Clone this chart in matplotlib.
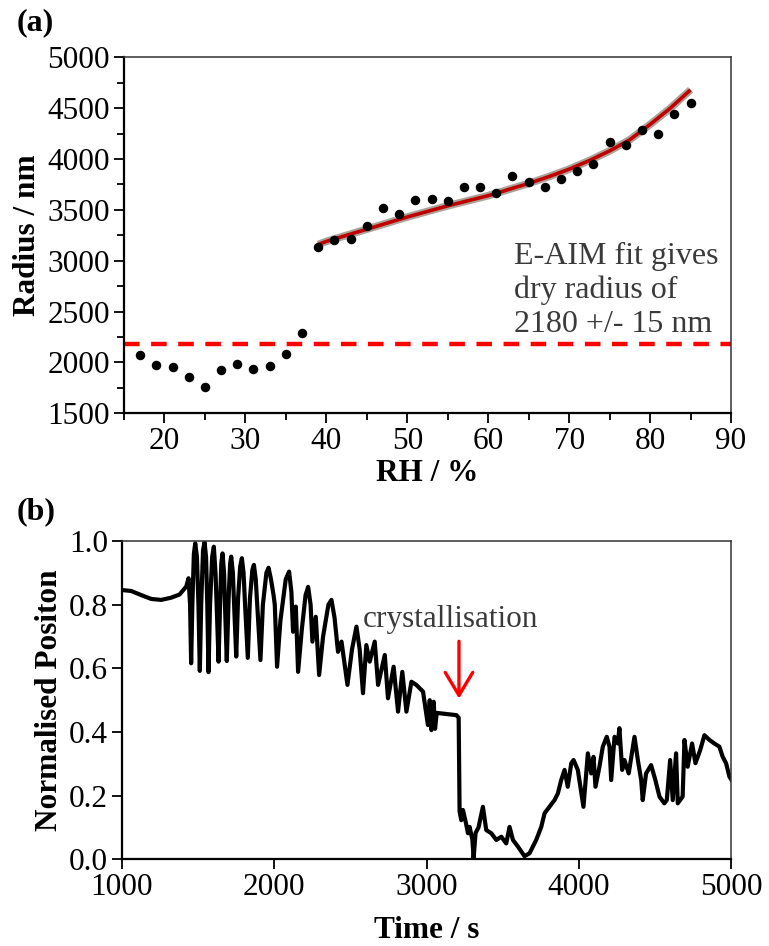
import matplotlib
matplotlib.use('Agg')
import matplotlib.pyplot as plt
from matplotlib.ticker import MultipleLocator, FormatStrFormatter

plt.rcParams['font.family'] = ['Liberation Serif', 'DejaVu Serif']

# ---- panel (a): radius vs RH ----
rh = [17, 19, 21, 23, 25, 27, 29, 31, 33, 35, 37,
      39, 41, 43, 45, 47, 49, 51, 53, 55, 57, 59, 61,
      63, 65, 67, 69, 71, 73, 75, 77, 79, 81, 83, 85]
radius = [2073, 1975, 1952, 1854, 1761, 1926, 1985, 1933, 1968, 2086, 2286,
          3138, 3201, 3214, 3341, 3521, 3459, 3597, 3604, 3584, 3722, 3722, 3669,
          3833, 3774, 3728, 3800, 3879, 3951, 4164, 4138, 4282, 4243, 4442, 4548]

# E-AIM fit curve
fit_rh = [39, 40, 42.5, 45, 47.5, 50, 52.5, 55, 57.5, 60, 62.5,
          65, 67.5, 70, 72.5, 75, 77.5, 80, 82.5, 85]
fit_r = [3160, 3190, 3250, 3310, 3370, 3430, 3485, 3540, 3590, 3640, 3700,
         3760, 3827, 3900, 3985, 4080, 4190, 4340, 4500, 4680]

dry_radius = 2180

# ---- panel (b): normalised position vs time ----
time_s = [1000, 1061, 1127, 1192, 1258, 1323, 1378, 1422, 1437, 1447,
          1454, 1462, 1472, 1481, 1492, 1502, 1511, 1520, 1532, 1542,
          1552, 1560, 1568, 1578, 1592, 1603, 1614, 1620, 1634, 1645,
          1652, 1660, 1670, 1676, 1688, 1700, 1710, 1717, 1728, 1736,
          1750, 1762, 1776, 1787, 1798, 1808, 1826, 1840, 1856, 1866,
          1878, 1890, 1909, 1925, 1948, 1962, 1978, 1995, 2003, 2018,
          2040, 2075, 2097, 2112, 2123, 2141, 2156, 2180, 2205, 2222,
          2238, 2250, 2272, 2294, 2320, 2355, 2375, 2395, 2418, 2441,
          2480, 2510, 2539, 2560, 2582, 2604, 2626, 2659, 2681, 2725,
          2746, 2783, 2812, 2840, 2867, 2900, 2932, 2976, 3008, 3020,
          3031, 3046, 3055, 3066, 3085, 3140, 3195, 3210, 3216, 3227,
          3238, 3256, 3271, 3282, 3300, 3308, 3321, 3340, 3369, 3391,
          3424, 3457, 3490, 3522, 3544, 3566, 3599, 3642, 3675, 3719,
          3752, 3774, 3806, 3839, 3861, 3883, 3905, 3926, 3949, 3964,
          3992, 4029, 4058, 4080, 4095, 4108, 4134, 4156, 4182, 4200,
          4211, 4233, 4254, 4265, 4283, 4298, 4326, 4364, 4386, 4408,
          4418, 4440, 4473, 4501, 4528, 4560, 4576, 4598, 4615, 4637,
          4648, 4680, 4692, 4713, 4742, 4764, 4795, 4823, 4856, 4888,
          4921, 4943, 4965, 4987, 5000]
position = [0.846, 0.843, 0.830, 0.818, 0.815, 0.822, 0.832, 0.857, 0.883, 0.800,
            0.616, 0.800, 0.960, 0.993, 0.950, 0.800, 0.592, 0.800, 0.970, 0.996,
            0.950, 0.800, 0.588, 0.800, 0.950, 0.982, 0.900, 0.820, 0.621, 0.820,
            0.930, 0.961, 0.900, 0.800, 0.623, 0.820, 0.930, 0.951, 0.900, 0.800,
            0.637, 0.820, 0.920, 0.946, 0.900, 0.800, 0.633, 0.820, 0.910, 0.925,
            0.880, 0.780, 0.626, 0.800, 0.900, 0.916, 0.880, 0.830, 0.800, 0.605,
            0.750, 0.880, 0.904, 0.840, 0.715, 0.794, 0.589, 0.720, 0.830, 0.856,
            0.800, 0.684, 0.762, 0.579, 0.700, 0.800, 0.815, 0.760, 0.652, 0.684,
            0.548, 0.660, 0.731, 0.660, 0.522, 0.673, 0.621, 0.684, 0.548, 0.642,
            0.506, 0.605, 0.464, 0.589, 0.464, 0.558, 0.548, 0.527, 0.422, 0.500,
            0.406, 0.495, 0.410, 0.460, 0.459, 0.456, 0.453, 0.445, 0.150, 0.123,
            0.155, 0.118, 0.082, 0.102, 0.061, 0.004, 0.083, 0.100, 0.165, 0.092,
            0.082, 0.061, 0.071, 0.050, 0.102, 0.061, 0.040, 0.010, 0.019, 0.061,
            0.102, 0.145, 0.165, 0.186, 0.207, 0.249, 0.281, 0.228, 0.302, 0.312,
            0.281, 0.165, 0.333, 0.270, 0.322, 0.228, 0.291, 0.354, 0.385, 0.354,
            0.249, 0.385, 0.364, 0.412, 0.281, 0.312, 0.270, 0.385, 0.312, 0.249,
            0.186, 0.270, 0.296, 0.249, 0.197, 0.176, 0.186, 0.312, 0.186, 0.333,
            0.176, 0.197, 0.375, 0.291, 0.364, 0.302, 0.343, 0.390, 0.375, 0.364,
            0.354, 0.322, 0.302, 0.260, 0.250]

crystal_time = 3212

TICK_SIZE = 22.5
LABEL_SIZE = 22.5
TEXT_GREY = '#3a3a3a'


def style_axes(ax):
    for side in ['left', 'bottom']:
        ax.spines[side].set_linewidth(1.6)
        ax.spines[side].set_color('black')
    for side in ['top', 'right']:
        ax.spines[side].set_linewidth(1.1)
        ax.spines[side].set_color('#333333')
    ax.tick_params(which='major', direction='out', length=7, width=1.3,
                   labelsize=TICK_SIZE, pad=3, top=False, right=False)
    ax.tick_params(which='minor', direction='out', length=5, width=1.3,
                   top=False, right=False)


fig = plt.figure(figsize=(7.69, 9.46), dpi=100)

# (a)
ax1 = fig.add_axes([0.1612, 0.5631, 0.7894, 0.3763])
ax1.axhline(dry_radius, color='#ff0000', lw=3.2, dashes=(3.5, 2.6))
ax1.plot(fit_rh, fit_r, color='#a39a90', lw=5.5, alpha=0.9, solid_capstyle='butt')
ax1.plot(fit_rh, fit_r, color='#c00000', lw=2.6, solid_capstyle='butt')
ax1.scatter(rh, radius, s=34, color='black', zorder=5)
ax1.set_xlim(15, 90)
ax1.set_ylim(1500, 5000)
ax1.xaxis.set_major_locator(MultipleLocator(10))
ax1.xaxis.set_minor_locator(MultipleLocator(5))
ax1.yaxis.set_major_locator(MultipleLocator(500))
ax1.yaxis.set_minor_locator(MultipleLocator(250))
style_axes(ax1)
ax1.set_xlabel('RH / %', fontsize=LABEL_SIZE, fontweight='bold', labelpad=2)
ax1.set_ylabel('Radius / nm', fontsize=LABEL_SIZE, fontweight='bold', labelpad=4)
ax1.text(63.2, 3180, 'E-AIM fit gives\ndry radius of\n2180 +/- 15 nm',
         fontsize=23, color=TEXT_GREY, va='top', ha='left', linespacing=1.2)

# (b)
ax2 = fig.add_axes([0.1586, 0.0916, 0.7925, 0.3365])
ax2.plot(time_s, position, color='black', lw=3.0)
ax2.set_xlim(1000, 5000)
ax2.set_ylim(0, 1.0)
ax2.xaxis.set_major_locator(MultipleLocator(1000))
ax2.yaxis.set_major_locator(MultipleLocator(0.2))
ax2.yaxis.set_major_formatter(FormatStrFormatter('%.1f'))
style_axes(ax2)
ax2.set_xlabel('Time / s', fontsize=LABEL_SIZE, fontweight='bold', labelpad=10)
ax2.set_ylabel('Normalised Positon', fontsize=LABEL_SIZE, fontweight='bold', labelpad=4)
ax2.text(3157, 0.73, 'crystallisation', fontsize=22.5, color=TEXT_GREY,
         ha='center', va='baseline')
ax2.annotate('', xy=(crystal_time, 0.505), xytext=(crystal_time, 0.685),
             arrowprops=dict(arrowstyle='->,head_length=0.75,head_width=0.45',
                             color='#ff0000', lw=2.4, mutation_scale=22,
                             shrinkA=0, shrinkB=0))

fig.text(17 / 769, 1 - 23 / 946, '(a)', fontsize=23, fontweight='bold', va='center')
fig.text(17 / 769, 1 - 512 / 946, '(b)', fontsize=23, fontweight='bold', va='center')

fig.savefig('out.png', dpi=100)
